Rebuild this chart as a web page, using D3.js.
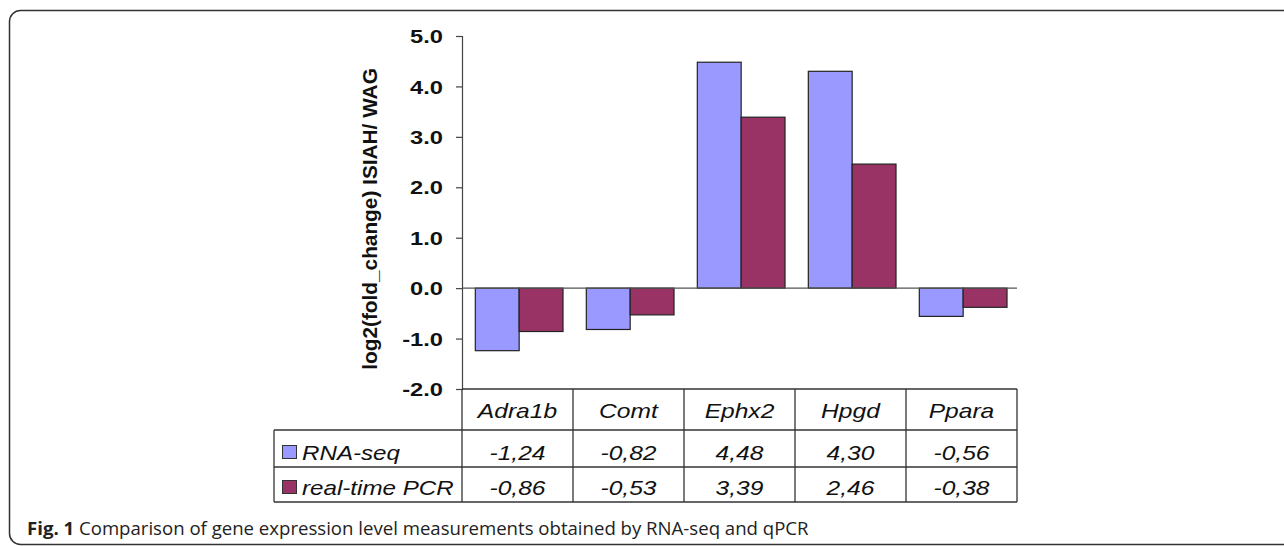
<!DOCTYPE html>
<html>
<head>
<meta charset="utf-8">
<script src="https://cdn.jsdelivr.net/npm/d3@7"></script>
<style>
  body { margin: 0; background: #fff; }
  svg text { font-family: "Liberation Sans", Arial, sans-serif; fill: #111; }
</style>
</head>
<body>
<div id="chart"></div>
<script>
// Data
const genes = ["Adra1b", "Comt", "Ephx2", "Hpgd", "Ppara"];
const seriesNames = ["RNA-seq", "real-time PCR"];
const rnaSeq = [-1.24, -0.82, 4.48, 4.30, -0.56];
const realTimePCR = [-0.86, -0.53, 3.39, 2.46, -0.38];
const yTicks = [5, 4, 3, 2, 1, 0, -1, -2];
const seriesColors = ["#9999FF", "#993366"];

const width = 1284, height = 546;

const svg = d3.select("#chart").append("svg")
    .attr("width", width)
    .attr("height", height);

// the source figure has wide-ish lettering, so stretch text horizontally
function stretch(sel, k) {
  sel.each(function() {
    const w = this.getComputedTextLength();
    d3.select(this).attr("textLength", w * k).attr("lengthAdjust", "spacingAndGlyphs");
  });
}

// outer frame (rounded, runs off the right edge)
svg.append("rect")
    .attr("x", 9.5).attr("y", 10.5)
    .attr("width", 1320).attr("height", 534)
    .attr("rx", 11)
    .attr("fill", "none")
    .attr("stroke", "#333")
    .attr("stroke-width", 1.5);

const plotLeft = 462, plotRight = 1017;
const y = d3.scaleLinear().domain([-2, 5]).range([389, 36]);
const x0 = d3.scaleBand().domain(genes).range([plotLeft, plotRight]);
const step = x0.step();
const x1 = d3.scaleBand().domain(seriesNames).range([step * 0.12, step * 0.91]);

const values = [rnaSeq, realTimePCR];

// bars
const group = svg.append("g");
seriesNames.forEach((s, si) => {
  group.selectAll(".bar" + si)
    .data(genes)
    .join("rect")
      .attr("x", g => x0(g) + x1(s))
      .attr("width", x1.bandwidth())
      .attr("y", (g, i) => y(Math.max(0, values[si][i])))
      .attr("height", (g, i) => Math.abs(y(values[si][i]) - y(0)))
      .attr("fill", seriesColors[si])
      .attr("stroke", "#222")
      .attr("stroke-width", 1.2);
});

const hyphen = s => s.replace("\u2212", "-");

// y axis
const yAxis = svg.append("g")
    .attr("transform", `translate(${plotLeft},0)`)
    .call(d3.axisLeft(y).tickValues(yTicks).tickSize(6).tickPadding(13)
      .tickFormat(d => hyphen(d3.format(".1f")(d))));
yAxis.select(".domain").attr("stroke", "#444").attr("stroke-width", 1.2);
yAxis.selectAll(".tick line").attr("stroke", "#444").attr("stroke-width", 1.2);
yAxis.selectAll(".tick text")
    .attr("fill", "#111")
    .style("font-family", "'Liberation Sans', Arial, sans-serif")
    .style("font-size", "18.5px")
    .style("font-weight", "bold")
    .attr("dy", "0.36em")
    .call(stretch, 1.28);

// zero line
svg.append("line")
    .attr("x1", plotLeft).attr("x2", plotRight)
    .attr("y1", y(0)).attr("y2", y(0))
    .attr("stroke", "#555").attr("stroke-width", 1.2);

// y axis title
svg.append("text")
    .attr("transform", `translate(377,219) rotate(-90)`)
    .attr("text-anchor", "middle")
    .style("font-size", "20px")
    .style("font-weight", "bold")
    .text("log2(fold_change) ISIAH/ WAG")
    .call(stretch, 1.04);

// data table under the plot
const rowTops = [389, 430, 467, 502];
const tableLeft = 274;
const lineColor = "#333";
const table = svg.append("g").attr("stroke", lineColor).attr("stroke-width", 1.3);

// horizontal lines
table.append("line").attr("x1", plotLeft).attr("x2", plotRight).attr("y1", rowTops[0]).attr("y2", rowTops[0]);
[1, 2, 3].forEach(r => {
  table.append("line").attr("x1", tableLeft).attr("x2", plotRight).attr("y1", rowTops[r]).attr("y2", rowTops[r]);
});
// vertical lines
table.append("line").attr("x1", tableLeft).attr("x2", tableLeft).attr("y1", rowTops[1]).attr("y2", rowTops[3]);
genes.forEach(g => {
  table.append("line").attr("x1", x0(g)).attr("x2", x0(g)).attr("y1", rowTops[0]).attr("y2", rowTops[3]);
});
table.append("line").attr("x1", plotRight).attr("x2", plotRight).attr("y1", rowTops[0]).attr("y2", rowTops[3]);

// header (gene names)
svg.selectAll(".gene")
  .data(genes)
  .join("text")
    .attr("class", "gene")
    .attr("x", g => x0(g) + step / 2)
    .attr("y", 418)
    .attr("text-anchor", "middle")
    .style("font-size", "21px")
    .style("font-style", "italic")
    .text(d => d)
    .call(stretch, 1.17);

const fmt = v => hyphen(d3.format(".2f")(v)).replace(".", ",");
const rowBaselines = [460, 495];
seriesNames.forEach((s, si) => {
  svg.selectAll(".val" + si)
    .data(genes)
    .join("text")
      .attr("x", g => x0(g) + step / 2)
      .attr("y", rowBaselines[si])
      .attr("text-anchor", "middle")
      .style("font-size", "21px")
      .style("font-style", "italic")
      .text((g, i) => fmt(values[si][i]))
      .call(stretch, 1.17);

  // legend key
  svg.append("rect")
      .attr("x", 282.5).attr("y", rowBaselines[si] - 14.5)
      .attr("width", 14).attr("height", 13)
      .attr("fill", seriesColors[si])
      .attr("stroke", "#333").attr("stroke-width", 1);
  svg.append("text")
      .attr("x", 302)
      .attr("y", rowBaselines[si])
      .style("font-size", "21px")
      .style("font-style", "italic")
      .text(s)
      .call(stretch, 1.15);
});

// caption
const cap = svg.append("text")
    .attr("x", 27).attr("y", 535)
    .style("font-family", "'Open Sans', sans-serif")
    .style("font-size", "18.6px")
    .style("fill", "#222");
cap.append("tspan").style("font-weight", "bold").text("Fig. 1");
cap.append("tspan").text(" Comparison of gene expression level measurements obtained by RNA-seq and qPCR");
</script>
</body>
</html>
